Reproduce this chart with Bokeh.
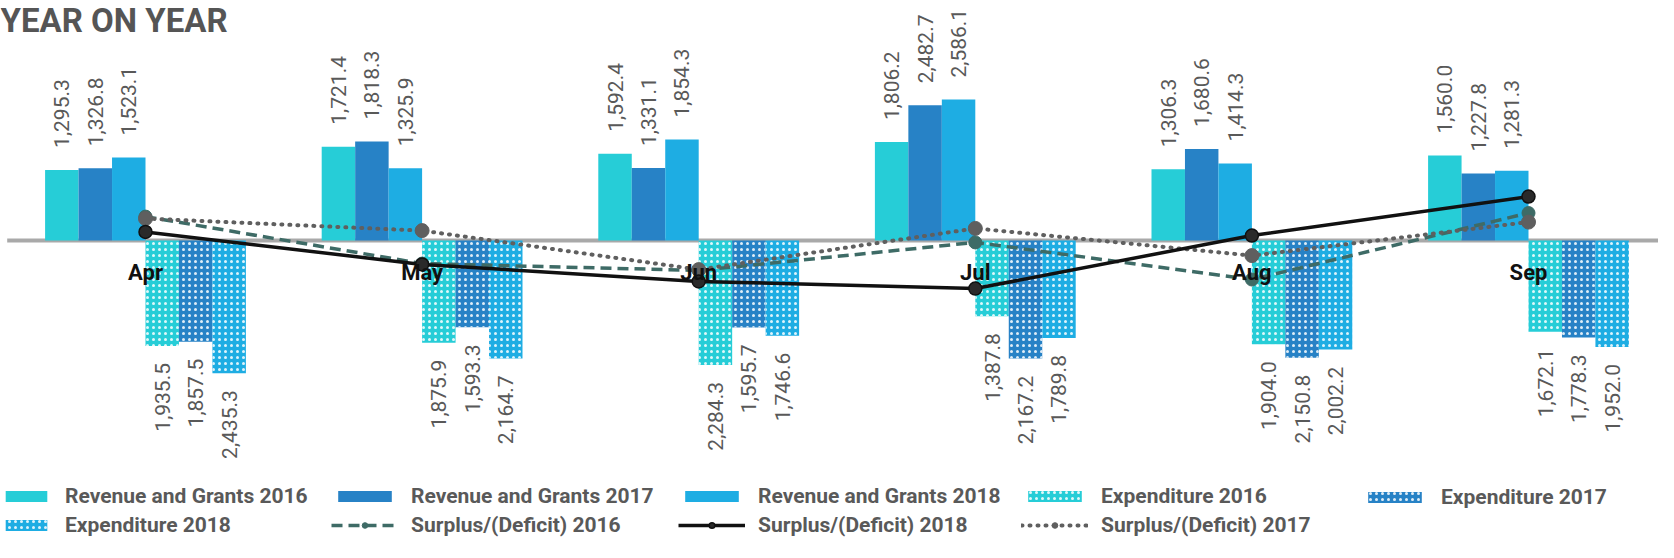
import math
from bokeh.plotting import figure
from bokeh.models import ColumnDataSource, Label, Legend, LegendItem, Range1d
from bokeh.core.properties import value
from bokeh.embed import file_html
from bokeh.resources import INLINE

# ---------------- data ----------------
months = ["Apr", "May", "Jun", "Jul", "Aug", "Sep"]

rev_2016 = [1295.3, 1721.4, 1592.4, 1806.2, 1306.3, 1560.0]
rev_2017 = [1326.8, 1818.3, 1331.1, 2482.7, 1680.6, 1227.8]
rev_2018 = [1523.1, 1325.9, 1854.3, 2586.1, 1414.3, 1281.3]

exp_2016 = [1935.5, 1875.9, 2284.3, 1387.8, 1904.0, 1672.1]
exp_2017 = [1857.5, 1593.3, 1595.7, 2167.2, 2150.8, 1778.3]
exp_2018 = [2435.3, 2164.7, 1746.6, 1789.8, 2002.2, 1952.0]

# surplus lines (secondary, unlabelled scale - estimated)
surplus_2016 = [87, -84, -109, -7, -142, 100]
surplus_2017 = [80, 36, -106, 44, -55, 67]
surplus_2018 = [31, -87, -149, -175, 18, 160]

# ---------------- styling ----------------
C16, C17, C18 = "#26CDD7", "#2782C6", "#1EADE3"
TXT = "#595959"
FONT = "Roboto"

W, H = 1658, 542
ZERO_PX = 240.0          # zero line from top of frame
SCALE = 0.0545           # px per unit (bars)
y_top = ZERO_PX / SCALE
y_bot = -(H - ZERO_PX) / SCALE
S_SCALE = 0.2747         # px per unit (surplus)
CAT_PX = 276.6
X0_PX = 145.0            # position of first category
x_left = -X0_PX / CAT_PX
x_right = x_left + W / CAT_PX

p = figure(width=W, height=H, x_range=Range1d(x_left, x_right), y_range=Range1d(y_bot, y_top),
           output_backend="svg", toolbar_location=None, min_border=0)
p.extra_y_ranges = {"surplus": Range1d(-(H - ZERO_PX) / S_SCALE, ZERO_PX / S_SCALE)}
p.axis.visible = False
p.xgrid.visible = False
p.ygrid.visible = False
p.outline_line_color = None
p.background_fill_color = "white"
p.border_fill_color = "white"

BW = 0.121
idx = list(range(len(months)))

# zero baseline across the category band
p.segment(x0=[idx[0] - 0.5], y0=[0], x1=[idx[-1] + 0.5], y1=[0], line_color="#A9A9A9", line_width=4)

def fmt(v):
    return "{:,.1f}".format(v)

rev_sets = [(rev_2016, C16, -2.5), (rev_2017, C17, -1.5), (rev_2018, C18, -0.5)]
exp_sets = [(exp_2016, C16, 0.5), (exp_2017, C17, 1.5), (exp_2018, C18, 2.5)]

rev_r = []
for vals, col, off in rev_sets:
    src = ColumnDataSource(dict(x=[i + off * BW for i in idx], top=vals, lab=[fmt(v) for v in vals]))
    r = p.vbar(x="x", top="top", bottom=0, width=BW, source=src, fill_color=col, line_color=None)
    rev_r.append(r)
    p.text(x="x", y="top", text="lab", source=src, angle=math.pi / 2, y_offset=-22,
           text_align="left", text_baseline="middle", text_color=TXT,
           text_font=value(FONT), text_font_size="21px")

exp_r = []
for vals, col, off in exp_sets:
    src = ColumnDataSource(dict(x=[i + off * BW for i in idx], bot=[-v for v in vals],
                                lab=[fmt(v) for v in vals]))
    r = p.vbar(x="x", top=0, bottom="bot", width=BW, source=src, fill_color=col, line_color=None,
               hatch_pattern="dot", hatch_color="white", hatch_scale=6, hatch_weight=1, hatch_alpha=0.85)
    exp_r.append(r)
    p.text(x="x", y="bot", text="lab", source=src, angle=math.pi / 2, y_offset=17,
           text_align="right", text_baseline="middle", text_color=TXT,
           text_font=value(FONT), text_font_size="21px")

# surplus lines
ls16 = p.line(idx, surplus_2016, y_range_name="surplus", line_color="#3E6B66", line_width=3.5, line_dash="11 6")
ms16 = p.scatter(idx, surplus_2016, y_range_name="surplus", size=13, fill_color="#3E6B66", line_color="#3E6B66")
ls17 = p.line(idx, surplus_2017, y_range_name="surplus", line_color="#5F5F5F", line_width=4, line_dash="1 7", line_cap="round")
ms17 = p.scatter(idx, surplus_2017, y_range_name="surplus", size=14, fill_color="#5F5F5F", line_color="#5F5F5F")
ls18 = p.line(idx, surplus_2018, y_range_name="surplus", line_color="#111111", line_width=3.5)
ms18 = p.scatter(idx, surplus_2018, y_range_name="surplus", size=13, fill_color="#2A2A2A", line_color="#111111", line_width=1.5)

# month labels
p.text(x=idx, y=[0] * len(idx), text=months, y_offset=32, text_align="center", text_baseline="middle",
       text_color="#111111", text_font=value(FONT), text_font_style="bold", text_font_size="22px")

# title
p.add_layout(Label(x=0, y=H - 20, x_units="screen", y_units="screen", text="YEAR ON YEAR",
                   text_font=FONT, text_font_style="bold", text_font_size="33px",
                   text_color="#555555", text_baseline="alphabetic"))

# legends, one per column
def make_legend(items, x, y, gw):
    lg = Legend(items=items, location=(x, y), orientation="vertical", padding=0, margin=0,
                spacing=5, label_standoff=13, glyph_width=gw, glyph_height=14,
                label_text_font=FONT, label_text_font_style="bold", label_text_font_size="21px",
                label_text_color=TXT, border_line_color=None, background_fill_alpha=0,
                label_height=22)
    p.add_layout(lg, "center")

LY = 5
make_legend([LegendItem(label="Revenue and Grants 2016", renderers=[rev_r[0]]),
             LegendItem(label="Expenditure 2018", renderers=[exp_r[2]])], 0, LY, 52)
make_legend([LegendItem(label="Revenue and Grants 2017", renderers=[rev_r[1]]),
             LegendItem(label="Surplus/(Deficit) 2016", renderers=[ls16, ms16])], 331, LY, 67)
make_legend([LegendItem(label="Revenue and Grants 2018", renderers=[rev_r[2]]),
             LegendItem(label="Surplus/(Deficit) 2018", renderers=[ls18, ms18])], 678, LY, 67)
make_legend([LegendItem(label="Expenditure 2016", renderers=[exp_r[0]]),
             LegendItem(label="Surplus/(Deficit) 2017", renderers=[ls17, ms17])], 1021, LY, 67)
make_legend([LegendItem(label="Expenditure 2017", renderers=[exp_r[1]])], 1361, LY + 28, 67)

open("out.html", "w").write(file_html(p, INLINE))
